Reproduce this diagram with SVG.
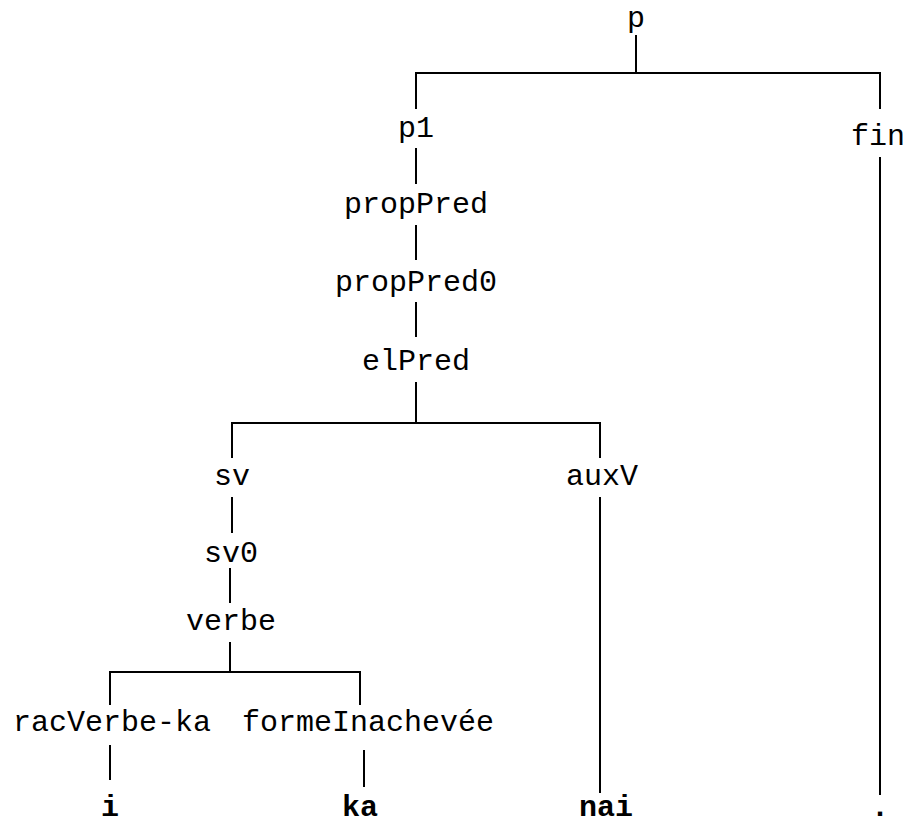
<svg xmlns="http://www.w3.org/2000/svg" width="908" height="825" viewBox="0 0 908 825">
<style>
text{font-family:"Liberation Mono","Courier New",monospace;font-size:30px;fill:#000;text-anchor:middle}
.w{font-weight:bold}
#edges line,#edges path{stroke:#000;stroke-width:2;fill:none}
</style>
<rect width="908" height="825" fill="#fff"/>
<g id="edges">
<path d="M636,35V73M416,109V73H880V109"/>
<line x1="416" y1="148" x2="416" y2="184"/>
<line x1="416" y1="225" x2="416" y2="260"/>
<line x1="416" y1="302" x2="416" y2="337"/>
<path d="M416,382V423M232,458V423H600V458"/>
<line x1="232" y1="497" x2="232" y2="533"/>
<line x1="230" y1="568" x2="230" y2="603"/>
<path d="M230,642V672M110,705V672H360V705"/>
<line x1="110" y1="745" x2="110" y2="780"/>
<line x1="364" y1="750" x2="364" y2="787"/>
<line x1="600" y1="497" x2="600" y2="793"/>
<line x1="880" y1="157" x2="880" y2="795"/>
</g>
<g id="n-p"><text x="636" y="27">p</text></g>
<g id="n-p1"><text x="416" y="137">p1</text></g>
<g id="n-fin"><text x="878" y="145">fin</text></g>
<g id="n-propPred"><text x="416" y="213">propPred</text></g>
<g id="n-propPred0"><text x="416" y="291">propPred0</text></g>
<g id="n-elPred"><text x="416" y="370">elPred</text></g>
<g id="n-sv"><text x="232" y="485">sv</text></g>
<g id="n-auxV"><text x="602" y="485">auxV</text></g>
<g id="n-sv0"><text x="231" y="562">sv0</text></g>
<g id="n-verbe"><text x="231" y="630">verbe</text></g>
<g id="n-racVerbe-ka"><text x="112" y="731">racVerbe-ka</text></g>
<g id="n-formeInachevee"><text x="368" y="731">formeInachevée</text></g>
<g id="n-i"><text class="w" x="110" y="816">i</text></g>
<g id="n-ka"><text class="w" x="360" y="816">ka</text></g>
<g id="n-nai"><text class="w" x="606" y="816">nai</text></g>
<g id="n-dot"><text class="w" x="880" y="816">.</text></g>
</svg>
